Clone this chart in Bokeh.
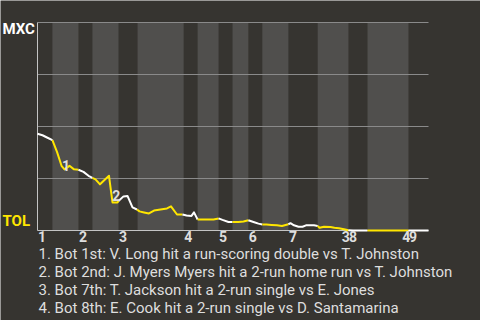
from bokeh.plotting import figure
from bokeh.models import Label, Range1d
from bokeh.embed import file_html
from bokeh.resources import INLINE

# ---- data ----
teams = ["MXC", "TOL"]
inning_labels = ["1", "2", "3", "4", "5", "6", "7", "8", "9"]
# half-inning boundaries in plate-appearance units (T1, B1, T2, B2, ... T9)
half_edges = [0, 3.2, 8.8, 11.8, 17.4, 21.5, 31.4, 34.4, 38.9, 41.9,
              45.3, 48.3, 53.9, 60.2, 66.8, 70.9, 79.7, 84.0]
pa_x = [0, 1.07, 2.15, 3.2,
        4.19, 5.16, 5.8, 6.87, 7.84, 8.8,
        9.88, 10.96, 11.8,
        12.46, 13.43, 14.39, 15.36, 16.11, 17.19,
        17.4, 18.47, 19.33, 20.41, 21.37,
        21.91, 22.88, 23.95, 25.03, 26.42, 27.82, 28.68, 29.97, 31.15,
        32.01, 33.08, 33.62, 34.4,
        35.34, 36.73, 37.81, 38.9,
        39.74, 41.03, 41.9,
        43.18, 44.25, 45.3,
        46.4, 47.47, 48.3,
        49.2, 50.27, 51.45, 52.52, 53.9,
        54.35, 55.1, 56.07, 56.93, 57.68, 58.65, 59.4, 60.2,
        60.58, 61.55, 62.94, 63.8, 64.77, 65.84, 66.8,
        67.8, 68.8, 69.9, 70.9,
        72.0, 73.1, 74.2, 75.3, 76.4, 77.5, 78.6, 79.7,
        80.8, 81.9, 83.0, 84.0]
wp = [0.465, 0.458, 0.446, 0.434,
      0.378, 0.311, 0.294, 0.311, 0.294, 0.292,
      0.282, 0.263, 0.253,
      0.246, 0.222, 0.243, 0.263, 0.135, 0.135,
      0.142, 0.164, 0.166, 0.111, 0.101,
      0.092, 0.087, 0.082, 0.096, 0.101, 0.106, 0.116, 0.077, 0.077,
      0.072, 0.070, 0.087, 0.053,
      0.053, 0.053, 0.053, 0.058,
      0.051, 0.041, 0.041,
      0.041, 0.043, 0.049,
      0.041, 0.033, 0.029,
      0.029, 0.027, 0.025, 0.022, 0.030,
      0.035, 0.025, 0.018, 0.018, 0.025, 0.025, 0.025, 0.022,
      0.013, 0.018, 0.017, 0.013, 0.011, 0.006, 0.001,
      0.0, 0.0, 0.0, 0.0,
      0.0, 0.0, 0.0, 0.0, 0.0, 0.0, 0.0, 0.0,
      0.0, 0.0, 0.0, 0.0]
grid_vals = [0.25, 0.5, 0.75, 1.0]
event_num = ["1", "2", "3", "4"]
event_x = [6.1, 16.9, 66.2, 79.2]
event_y = [0.311, 0.166, -0.031, -0.031]
event_text = [
    "1. Bot 1st: V. Long hit a run-scoring double vs T. Johnston",
    "2. Bot 2nd: J. Myers Myers hit a 2-run home run vs T. Johnston",
    "3. Bot 7th: T. Jackson hit a 2-run single vs E. Jones",
    "4. Bot 8th: E. Cook hit a 2-run single vs D. Santamarina",
]

# ---- style ----
BG = "#363430"
BAND = "#504f4d"
GRID = "#8a8a8a"
AXIS = "#c4c4c4"
WHITE = "#ffffff"
YELLOW = "#ffe600"
TXT = "#dedede"
FONT = "Roboto"

W, H = 480, 320
PL, PR, PT, PB = 37, 428, 22, 230   # plot box in pixels
x0, x1 = half_edges[0], half_edges[-1]
y0, y1 = 0.0, 1.0
ux = (x1 - x0) / (PR - PL)
uy = (y1 - y0) / (PB - PT)
xr = Range1d(x0 - PL * ux, x1 + (W - PR) * ux)
yr = Range1d(y0 - (H - PB) * uy, y1 + PT * uy)

p = figure(width=W, height=H, output_backend="svg", toolbar_location=None,
           x_range=xr, y_range=yr, min_border=0)
p.background_fill_color = BG
p.border_fill_color = BG
p.outline_line_color = None
p.grid.visible = False
p.axis.visible = False

# bottom-half bands
p.quad(left=half_edges[1:16:2], right=half_edges[2:17:2], bottom=y0, top=y1,
       fill_color=BAND, line_color=None)

# gridlines
p.segment(x0=[x0] * len(grid_vals), x1=[x1] * len(grid_vals),
          y0=grid_vals, y1=grid_vals, line_color=GRID, line_width=1)

# axis lines
p.segment(x0=[x0, x0], y0=[y0, y0], x1=[x0, x1], y1=[y1, y0],
          line_color=AXIS, line_width=1)

# win-probability line, coloured per half inning
xs, ys, cols = [], [], []
for i in range(len(half_edges) - 1):
    a, b = half_edges[i], half_edges[i + 1]
    idx = [k for k, xv in enumerate(pa_x) if a - 1e-9 <= xv <= b + 1e-9]
    if not idx:
        continue
    if idx[0] > 0 and pa_x[idx[0]] > a + 1e-9:
        idx = [idx[0] - 1] + idx
    xs.append([pa_x[k] for k in idx])
    ys.append([wp[k] for k in idx])
    cols.append(WHITE if i % 2 == 0 else YELLOW)
p.multi_line(xs, ys, line_color=cols, line_width=2, line_join="round")

# team labels
p.add_layout(Label(x=x0, y=y1, x_offset=-35, y_offset=-6.3, text=teams[0],
                   text_font=FONT, text_font_style="bold", text_font_size="15px",
                   text_color=WHITE, text_align="left", text_baseline="alphabetic"))
p.add_layout(Label(x=x0, y=y0, x_offset=-35, y_offset=9.5, text=teams[1],
                   text_font=FONT, text_font_style="bold", text_font_size="15px",
                   text_color=YELLOW, text_align="left", text_baseline="alphabetic"))

# inning labels
starts = half_edges[0::2][:9]
for s, t in zip(starts, inning_labels):
    p.add_layout(Label(x=s, y=y0, x_offset=0.5, y_offset=0, text=t,
                       text_font=FONT, text_font_style="bold", text_font_size="14px",
                       text_color=TXT, text_align="left", text_baseline="top"))

# event markers
for ex, ey, t in zip(event_x, event_y, event_num):
    p.add_layout(Label(x=ex, y=ey, text=t, text_font=FONT, text_font_style="bold",
                       text_font_size="14px", text_color=TXT,
                       text_align="center", text_baseline="middle"))

# event descriptions
for i, t in enumerate(event_text):
    p.add_layout(Label(x=x0, y=y0, x_offset=1, y_offset=-23.8 - 17.8 * i, text=t,
                       text_font=FONT, text_font_size="15px", text_color=TXT,
                       text_align="left", text_baseline="alphabetic"))

open("out.html", "w").write(file_html(p, INLINE))
